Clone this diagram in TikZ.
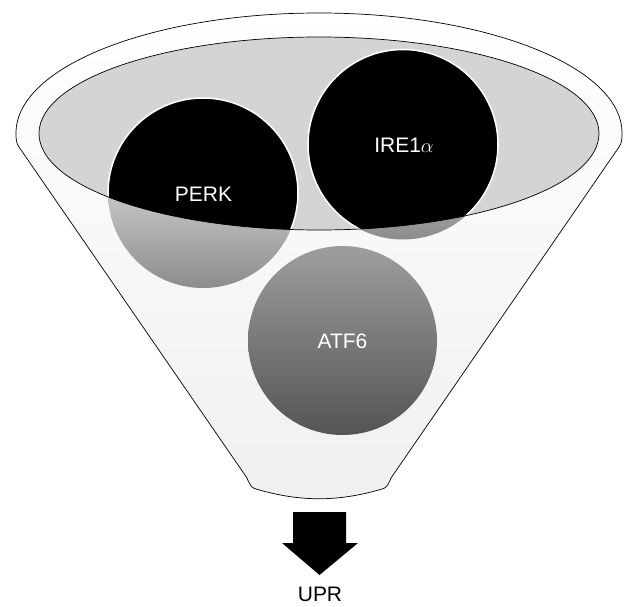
\documentclass[tikz,border=0pt]{standalone}
\usepackage{fontspec}
\setmainfont{Liberation Sans}
\tikzset{
  figlbl/.style={draw=none, fill=none, inner sep=0pt, white, font=\fontsize{17.9}{20}\selectfont},
  figlines/.style={line width=0.6pt, draw=black},
  body/.style={figlines, top color=white, bottom color=black!6},
  mouth/.style={fill=black!17},
  lowc/.style={top color=white, bottom color=black!45},
  topc/.style={fill=black, draw=white, line width=1.3pt},
  atfc/.style={top color=black!38, bottom color=black!67},
}
\begin{document}
\begin{tikzpicture}[x=0.03cm,y=0.03cm]
\useasboundingbox (0,0) rectangle (627,606);
% funnel
\draw[body] (247,128) -- (19,459) .. controls (16,463) and (16,468) .. (16,473)
  arc[start angle=180, end angle=0, x radius=303, y radius=120]
  .. controls (622,468) and (622,463) .. (619,459) -- (391,128)
  .. controls (388,120) and (386,118) .. (382,117)
  .. controls (338,104) and (300,104) .. (256,117)
  .. controls (252,118) and (250,120) .. (247,128) -- cycle;
\fill[mouth] (319,472.5) ellipse[x radius=280, y radius=96.5];
% circles seen through the wall
\shade[lowc] (203,413) circle (95);
\shade[lowc] (403,461.5) circle (95);
\shade[atfc] (342.5,265.5) circle (94.5);
% circles seen from above
\begin{scope}
\clip (319,472.5) ellipse[x radius=280, y radius=96.5];
\draw[topc] (203,413) circle (95);
\draw[topc] (403,461.5) circle (95);
\end{scope}
\draw[figlines] (319,472.5) ellipse[x radius=280, y radius=96.5];
\node[figlbl] (perk) at (203.5,411.5) {PERK};
\node[figlbl] (ire) at (404,461) {IRE1$\alpha$};
\node[figlbl] (atf) at (342.5,265) {ATF6};
% output
\node[figlbl, black, anchor=base] (upr) at (320,4.5) {UPR};
\coordinate (tip) at (319.5,31);
\fill[black] (293,94) -- (346,94) -- (346,63) -- (358,63) -- (tip) -- (282,63) -- (293,63) -- cycle;
\end{tikzpicture}
\end{document}
